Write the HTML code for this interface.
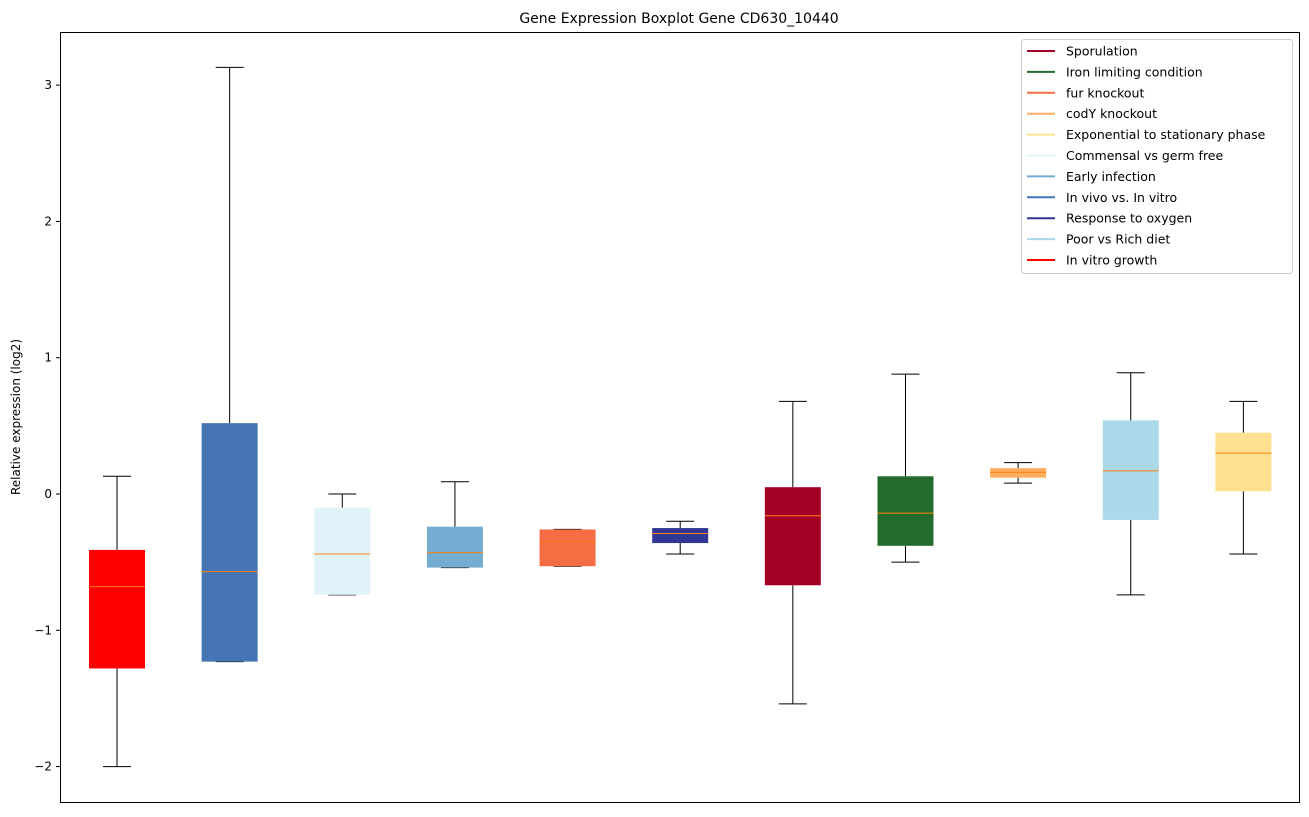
<!DOCTYPE html>
<html><head><meta charset="utf-8"><style>
body{margin:0;background:#fff;font-family:"Liberation Sans","DejaVu Sans",sans-serif;}
svg text{font-family:"DejaVu Sans","Liberation Sans",sans-serif;}
</style></head><body>
<svg id="chart" width="1309" height="812" xmlns="http://www.w3.org/2000/svg">
<text x="679" y="23" text-anchor="middle" font-size="14">Gene Expression Boxplot Gene CD630_10440</text>
<text transform="translate(20,417) rotate(-90)" text-anchor="middle" font-size="12">Relative expression (log2)</text>
<g id="boxes"></g>
<g id="yaxis"></g>
<rect x="60.5" y="32.5" width="1239" height="770" fill="none" stroke="#000" stroke-width="1"/>
<g id="legend"></g>
</svg>
<script>
const categories=["In vitro growth","In vivo vs. In vitro","Commensal vs germ free","Early infection","fur knockout","Response to oxygen","Sporulation","Iron limiting condition","codY knockout","Poor vs Rich diet","Exponential to stationary phase"];
const colors=["#ff0000","#4575b4","#e0f3f8","#74add1","#f46d43","#313695","#a50026","#226b2c","#fdae61","#abd9e9","#fee090"];
const whiskerHigh=[0.13,3.13,0.0,0.09,-0.26,-0.20,0.68,0.88,0.23,0.89,0.68];
const q3=[-0.41,0.52,-0.10,-0.24,-0.26,-0.25,0.05,0.13,0.19,0.54,0.45];
const medians=[-0.68,-0.57,-0.44,-0.43,-0.35,-0.29,-0.16,-0.14,0.16,0.17,0.30];
const q1=[-1.28,-1.23,-0.74,-0.54,-0.53,-0.36,-0.67,-0.38,0.12,-0.19,0.02];
const whiskerLow=[-2.0,-1.23,-0.74,-0.54,-0.53,-0.44,-1.54,-0.50,0.08,-0.74,-0.44];
const yTicks=[-2,-1,0,1,2,3];
const legendLabels=["Sporulation","Iron limiting condition","fur knockout","codY knockout","Exponential to stationary phase","Commensal vs germ free","Early infection","In vivo vs. In vitro","Response to oxygen","Poor vs Rich diet","In vitro growth"];
const legendColors=["#a50026","#226b2c","#f46d43","#fdae61","#fee090","#e0f3f8","#74add1","#4575b4","#313695","#abd9e9","#ff0000"];

const NS="http://www.w3.org/2000/svg";
const L=60,R=1299,T=32,B=802,yMin=-2.26,yMax=3.39;
const y=v=>B-(v-yMin)/(yMax-yMin)*(B-T);
const x=i=>L+(i+0.5)*(R-L)/categories.length + 0.7;
function mk(tag,attrs,parent){const e=document.createElementNS(NS,tag);for(const k in attrs)e.setAttribute(k,attrs[k]);parent.appendChild(e);return e;}
const bg=document.getElementById('boxes');
const hw=28,cw=14;
categories.forEach((c,i)=>{
  const g=mk('g',{},bg);
  
  
  const cx=x(i);
  mk('line',{x1:cx,x2:cx,y1:y(whiskerHigh[i]),y2:y(q3[i]),stroke:'#000'},g);
  mk('line',{x1:cx,x2:cx,y1:y(q1[i]),y2:y(whiskerLow[i]),stroke:'#000'},g);
  mk('line',{x1:cx-cw,x2:cx+cw,y1:y(whiskerHigh[i]),y2:y(whiskerHigh[i]),stroke:'#000'},g);
  mk('line',{x1:cx-cw,x2:cx+cw,y1:y(whiskerLow[i]),y2:y(whiskerLow[i]),stroke:'#000'},g);
  mk('rect',{x:cx-hw,y:y(q3[i]),width:2*hw,height:Math.max(1,y(q1[i])-y(q3[i])),fill:colors[i]},g);
  mk('line',{x1:cx-hw,x2:cx+hw,y1:y(medians[i]),y2:y(medians[i]),stroke:'#ff7f0e'},g);
});
const ya=document.getElementById('yaxis');
yTicks.forEach(t=>{
  const g=mk('g',{},ya);
  
  
  mk('line',{x1:L-4,x2:L,y1:y(t),y2:y(t),stroke:'#000'},g);
  const tx=mk('text',{x:L-8,y:y(t)+4,'text-anchor':'end','font-size':12},g);
  tx.textContent=t<0?'\u2212'+Math.abs(t):String(t);
});
const lg=document.getElementById('legend');
const lb=mk('rect',{x:1021.5,y:39.5,width:271,height:234,fill:'#fff',stroke:'#ccc',rx:3},lg);


legendLabels.forEach((l,i)=>{
  const g=mk('g',{},lg);
  
  
  const yy=51+i*20.9;
  mk('line',{x1:1027,x2:1055,y1:yy,y2:yy,stroke:legendColors[i],'stroke-width':2},g);
  const t=mk('text',{x:1066,y:yy+4.5,'font-size':12.5},g);
  t.textContent=l;
});
</script>
</body></html>
